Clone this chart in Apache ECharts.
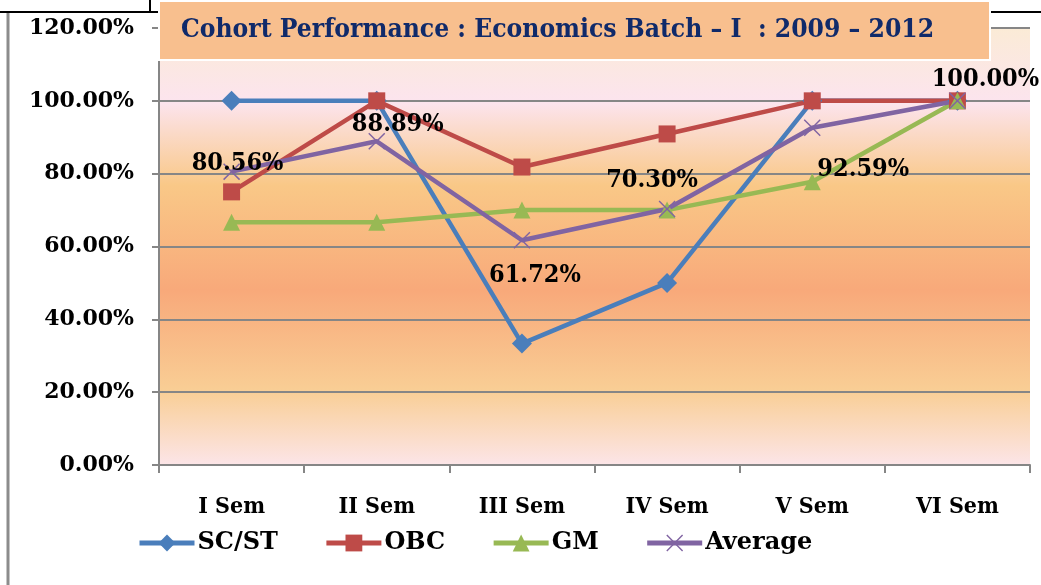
<!DOCTYPE html>
<html>
<head>
<meta charset="utf-8">
<script src="https://cdn.jsdelivr.net/npm/echarts@6/dist/echarts.min.js"></script>
<style>
html,body{margin:0;padding:0;background:#fff;}
#chart{width:1041px;height:585px;}
</style>
</head>
<body>
<div id="chart"></div>
<script>
const titleText = 'Cohort Performance : Economics Batch \u2013 I  : 2009 \u2013 2012';
const categories = ['I Sem', 'II Sem', 'III Sem', 'IV Sem', 'V Sem', 'VI Sem'];
const yTicks = [0, 20, 40, 60, 80, 100, 120];
const seriesNames = ['SC/ST', 'OBC', 'GM', 'Average'];
const scst = [100, 100, 33.33, 50, 100, 100];
const obc = [75, 100, 81.82, 90.91, 100, 100];
const gm = [66.67, 66.67, 70, 70, 77.78, 100];
const average = [80.56, 88.89, 61.72, 70.30, 92.59, 100];

const FONT = 'DejaVu Serif';
const CFONT = 'DejaVu Serif Condensed';
const labelOffsets = [[6, -8], [21, -17], [13, 35], [-15, -28], [51, 42], [28, -21]];
const xPath = 'path://M0,1.2L1.2,0L10,8.8L18.8,0L20,1.2L11.2,10L20,18.8L18.8,20L10,11.2L1.2,20L0,18.8L8.8,10Z';

const chart = echarts.init(document.getElementById('chart'), null, {renderer: 'canvas'});

function lineSeries(name, data, color, symbol, size) {
  return {
    name: name,
    type: 'line',
    data: data,
    symbol: symbol,
    symbolSize: size,
    showAllSymbol: true,
    lineStyle: {color: color, width: 4.5},
    itemStyle: {color: color},
    emphasis: {disabled: true},
    animation: false
  };
}

const avgSeries = lineSeries(seriesNames[3], average.map((v, i) => ({
  value: v,
  label: {offset: labelOffsets[i]}
})), '#8064A2', xPath, 17);
avgSeries.label = {
  show: true,
  position: 'inside',
  formatter: p => p.value.toFixed(2) + '%',
  fontFamily: CFONT,
  fontWeight: 'bold',
  fontSize: 25,
  color: '#000'
};

const option = {
  animation: false,
  backgroundColor: '#ffffff',
  grid: {
    left: 159, right: 11, top: 28, bottom: 120,
    show: true,
    borderWidth: 0,
    backgroundColor: {
      type: 'linear', x: 0, y: 0, x2: 0, y2: 1,
      colorStops: [
        {offset: 0, color: '#FBEBD6'},
        {offset: 0.17, color: '#FCE4EE'},
        {offset: 0.36, color: '#F9C887'},
        {offset: 0.6, color: '#F8A97A'},
        {offset: 0.83, color: '#F9CE95'},
        {offset: 1, color: '#FCE5E8'}
      ]
    }
  },
  legend: {
    left: 132,
    top: 526,
    itemWidth: 55,
    itemHeight: 21,
    itemGap: 46,
    lineStyle: {width: 5},
    textStyle: {fontFamily: FONT, fontWeight: 'bold', fontSize: 24, color: '#000', padding: [0, 0, 0, -2]},
    data: seriesNames
  },
  xAxis: {
    type: 'category',
    data: categories,
    boundaryGap: true,
    axisLine: {show: true, lineStyle: {color: '#868686', width: 2}},
    axisTick: {show: true, length: 8, lineStyle: {color: '#868686', width: 2}},
    axisLabel: {fontFamily: CFONT, fontWeight: 'bold', fontSize: 23, color: '#000', margin: 31},
    splitLine: {show: false}
  },
  yAxis: {
    type: 'value',
    min: yTicks[0],
    max: yTicks[yTicks.length - 1],
    interval: yTicks[1] - yTicks[0],
    axisLine: {show: true, lineStyle: {color: '#868686', width: 2}},
    axisTick: {show: true, length: 7, lineStyle: {color: '#868686', width: 2}},
    axisLabel: {fontFamily: FONT, fontWeight: 'bold', fontSize: 22, color: '#000', margin: 25,
      formatter: v => v.toFixed(2) + '%'},
    splitLine: {show: true, lineStyle: {color: '#868686', width: 2}}
  },
  graphic: [
    {type: 'line', shape: {x1: 0, y1: 12, x2: 158, y2: 12}, style: {stroke: '#000', lineWidth: 2}, z: 100},
    {type: 'line', shape: {x1: 150, y1: 0, x2: 150, y2: 12}, style: {stroke: '#000', lineWidth: 2}, z: 100},
    {type: 'line', shape: {x1: 990, y1: 12, x2: 1041, y2: 12}, style: {stroke: '#000', lineWidth: 2}, z: 100},
    {type: 'line', shape: {x1: 8, y1: 13, x2: 8, y2: 585}, style: {stroke: '#8c8c8c', lineWidth: 3}, z: 100},
    {type: 'rect', shape: {x: 159, y: 1, width: 831, height: 59},
      style: {fill: '#F8BF8E', stroke: '#ffffff', lineWidth: 2}, z: 100},
    {type: 'text', left: 181, top: 17, z: 101,
      style: {text: titleText, fill: '#102A6A', font: 'bold 26.2px "DejaVu Serif Condensed", "DejaVu Serif", serif'}}
  ],
  series: [
    lineSeries(seriesNames[0], scst, '#4A7EBB', 'diamond', 20),
    lineSeries(seriesNames[1], obc, '#BE4B48', 'rect', 17),
    lineSeries(seriesNames[2], gm, '#98B954', 'triangle', 17),
    avgSeries
  ]
};
chart.setOption(option);
</script>
</body>
</html>
